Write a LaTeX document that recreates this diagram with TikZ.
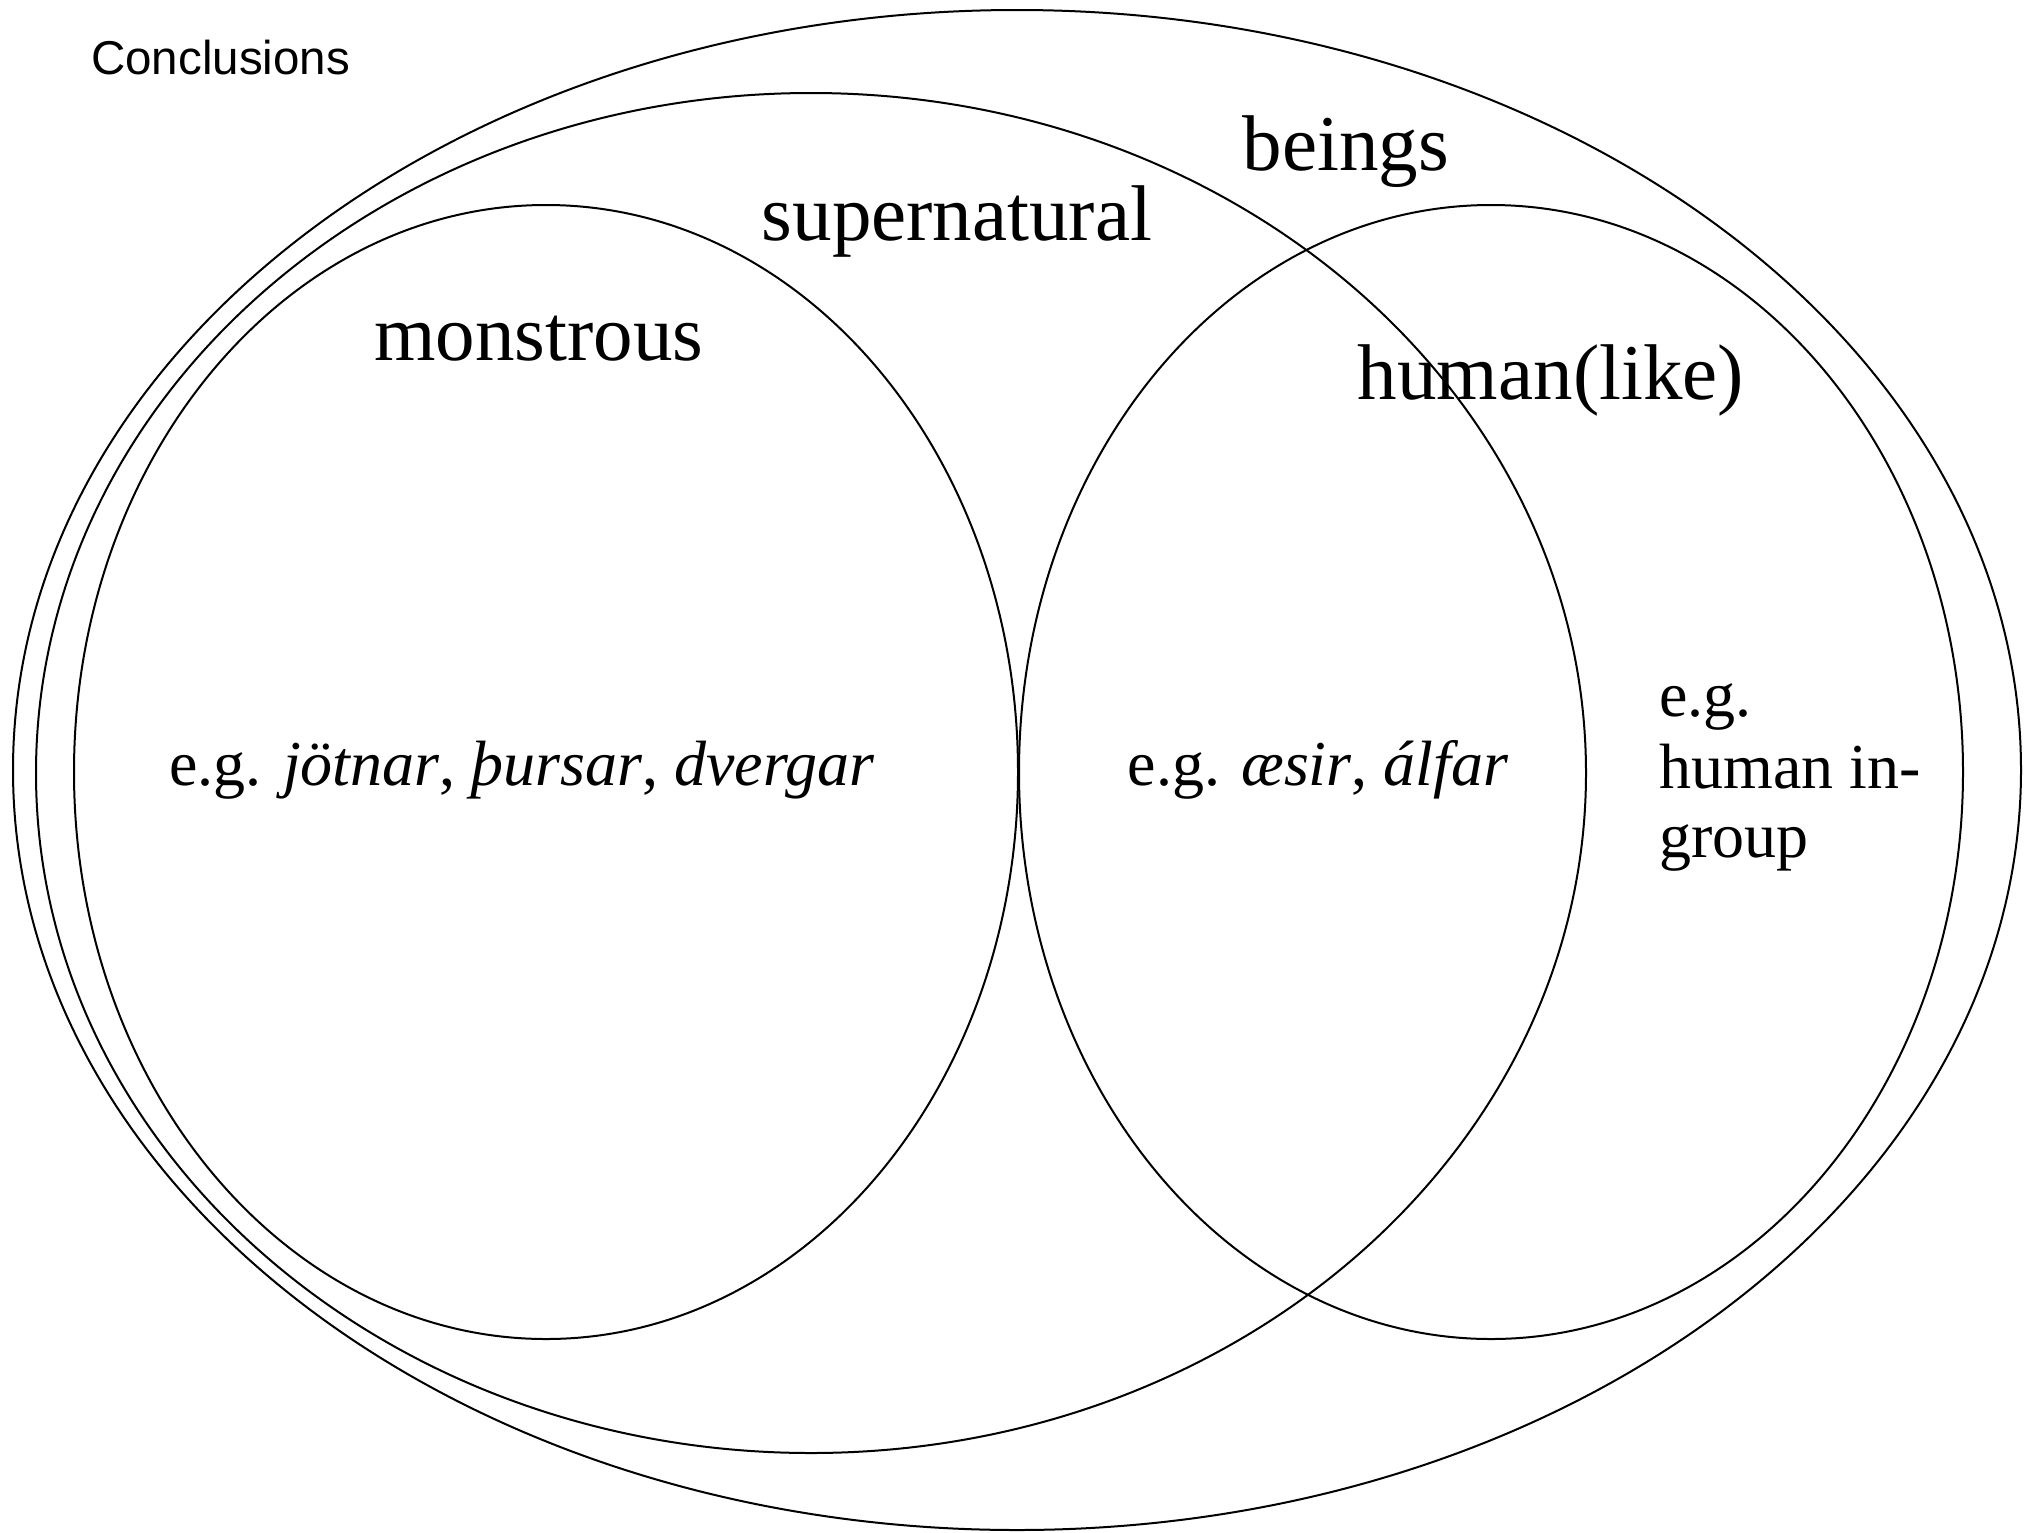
\documentclass[tikz,border=0pt]{standalone}
\usepackage{fontspec}
\setmainfont{Liberation Serif}
\newfontfamily\labelsans{Liberation Sans}
\begin{document}
\begin{tikzpicture}[x=1pt,y=-1pt,
  setline/.style={draw=black,line width=2pt},
  biglabel/.style={anchor=base,inner sep=0pt,font=\fontsize{79}{90}\selectfont},
  eglabel/.style={anchor=base,inner sep=0pt,font=\fontsize{64}{71}\selectfont},
  titlelabel/.style={anchor=base west,inner sep=0pt,font=\labelsans\fontsize{47.5}{55}\selectfont}]
\useasboundingbox (0,0) rectangle (2035,1532);
% centres
\coordinate (cbeings) at (1017,770);
\coordinate (csuper) at (811,773);
\coordinate (cmon) at (546,772);
\coordinate (chum) at (1491,772);
% sets
\draw[setline] (cbeings) ellipse [x radius=1004pt, y radius=760pt];
\draw[setline] (csuper) ellipse [x radius=775pt, y radius=680pt];
\draw[setline] (cmon) ellipse [x radius=472pt, y radius=567pt];
\draw[setline] (chum) ellipse [x radius=472pt, y radius=567pt];
% labels
\node[titlelabel] (title) at (91,74) {Conclusions};
\node[biglabel] (beings) at (1346,170) {beings};
\node[biglabel] (super) at (957,240) {supernatural};
\node[biglabel] (mon) at (539,360) {monstrous};
\node[biglabel] (hum) at (1551,399) {human(like)};
\node[eglabel] (egmon) at (522,785) {e.g. \textit{jötnar}, \textit{þursar}, \textit{dvergar}};
\node[eglabel] (egboth) at (1318,785) {e.g. \textit{æsir}, \textit{álfar}};
\node[eglabel,anchor=base west] (eghum1) at (1659,716) {e.g.};
\node[eglabel,anchor=base west] (eghum2) at (1659,788) {human in-};
\node[eglabel,anchor=base west] (eghum3) at (1659,857) {group};
\end{tikzpicture}
\end{document}
